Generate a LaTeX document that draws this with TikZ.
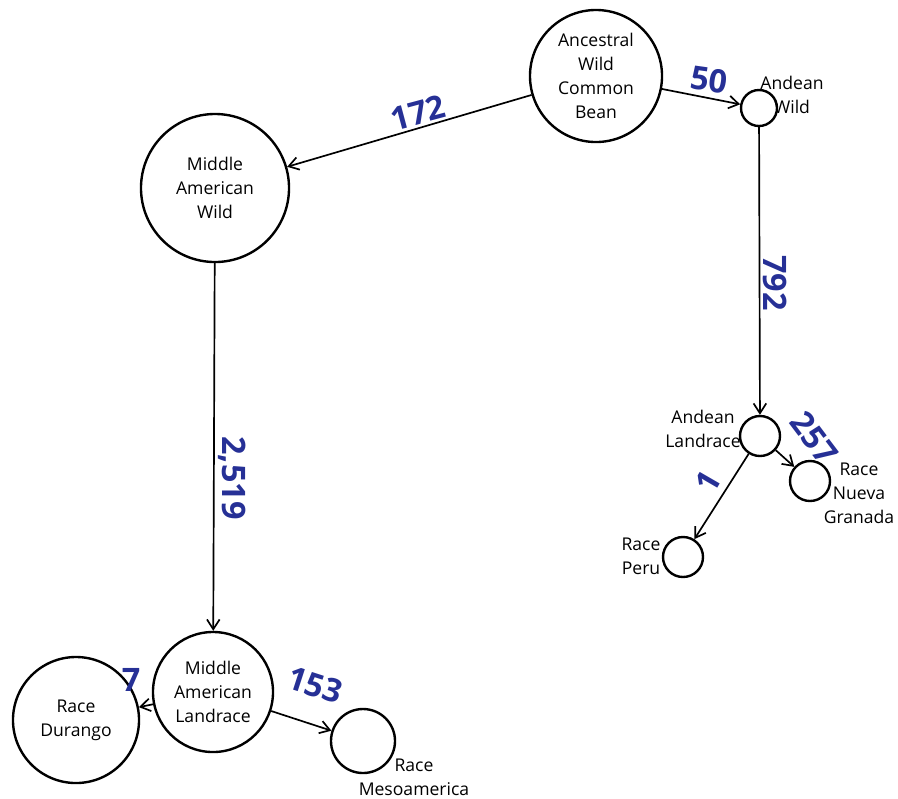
\documentclass[tikz,border=0pt]{standalone}
\usepackage{fontspec}
\setmainfont{Open Sans}
\usetikzlibrary{arrows.meta}
\definecolor{numblue}{RGB}{38,48,150}

\begin{document}
\begin{tikzpicture}[x=0.025cm,y=-0.025cm,
    pop/.style={draw=black,circle,line width=1.7pt,inner sep=0pt,align=center,
      font=\fontsize{12.5}{17}\selectfont},
    lbl/.style={align=center,inner sep=0pt,font=\fontsize{12.5}{17}\selectfont},
    num/.style={text=numblue,inner sep=0pt,font=\fontsize{23}{23}\selectfont\bfseries},
    edge/.style={line width=1.2pt,-{Straight Barb[length=7pt,width=9pt,line width=1.2pt]}}]
  \useasboundingbox (0,0) rectangle (898,798);

  \node[pop,minimum size=3.3cm](ancestral) at (596,76)  {Ancestral\\Wild\\Common\\Bean};
  \node[pop,minimum size=3.7cm](mwild)     at (215,188) {Middle\\American\\Wild};
  \node[pop,minimum size=3.0cm](mland)     at (213,692) {Middle\\American\\Landrace};
  \node[pop,minimum size=3.15cm](durango)  at (76,720)  {Race\\Durango};
  \node[pop,minimum size=1.6cm](meso)      at (363,741) {};
  \node[pop,minimum size=0.9cm](awild)     at (759,108) {};
  \node[pop,minimum size=1.0cm](aland)     at (760,436) {};
  \node[pop,minimum size=1.0cm](nueva)     at (810,481) {};
  \node[pop,minimum size=1.0cm](peru)      at (683,557) {};

  \node[lbl](awildtxt) at (792,95)  {Andean\\Wild};
  \node[lbl](alandtxt) at (703,429) {Andean\\Landrace};
  \node[lbl](nuevatxt) at (859,493) {Race\\Nueva\\Granada};
  \node[lbl](perutxt)  at (641,556) {Race\\Peru};
  \node[lbl](mesotxt)  at (414,777) {Race\\Mesoamerica};

  \draw[edge] (ancestral)--(mwild);
  \draw[edge] (ancestral)--(awild);
  \draw[edge] (awild)--(aland);
  \draw[edge] (mwild)--(mland);
  \draw[edge] (aland)--(nueva);
  \draw[edge] (aland)--(peru);
  \draw[edge] (mland)--(durango);
  \draw[edge] (mland)--(meso);

  \node[num,rotate=15](n172)  at (418,113) {172};
  \node[num,rotate=-8](n50)   at (709,80)  {50};
  \node[num,rotate=-90](n792) at (775,283) {792};
  \node[num,rotate=-90](n2519) at (232,478) {2,519};
  \node[num,rotate=-53](n257) at (814,438) {257};
  \node[num,rotate=60](n1)    at (708,482) {1};
  \node[num](n7)              at (131,680) {7};
  \node[num,rotate=-18](n153) at (315,685) {153};
\end{tikzpicture}
\end{document}
